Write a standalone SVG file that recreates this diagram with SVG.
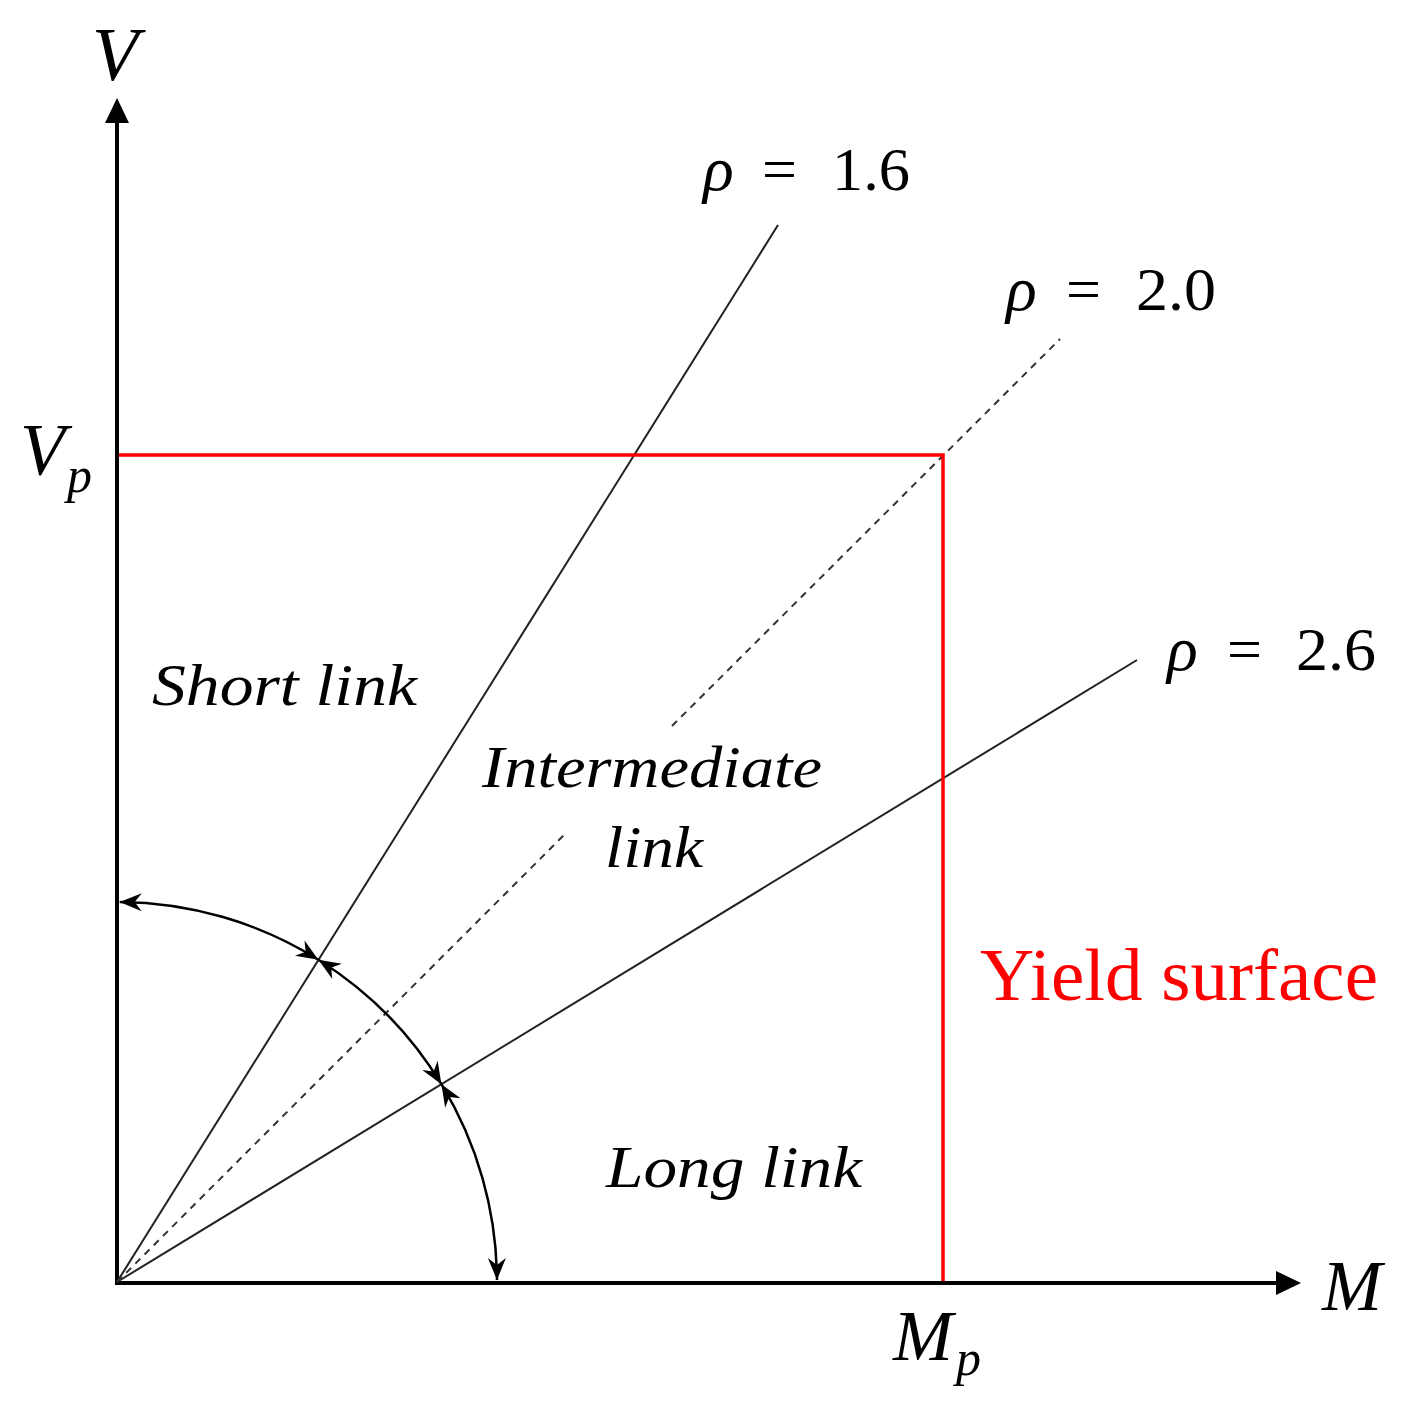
<svg xmlns="http://www.w3.org/2000/svg" width="1411" height="1415" viewBox="0 0 1411 1415">
<style>
.math{font-style:italic;fill:#000}
.num{fill:#000;font-size:62px}
.lbl{font-style:italic;fill:#000;font-size:60px}
.axis{stroke:#000;stroke-width:4;fill:none}
.ray{stroke:#222;stroke-width:2;fill:none}
.dash{stroke:#333;stroke-width:2;fill:none;stroke-dasharray:7 6}
.yield{stroke:#ff0000;stroke-width:3.5;fill:none}
.arc{stroke:#000;stroke-width:2.5;fill:none;marker-start:url(#barb);marker-end:url(#barb)}
</style>
<defs>
<marker id="barb" markerUnits="userSpaceOnUse" orient="auto-start-reverse" markerWidth="40" markerHeight="40" refX="0" refY="0" overflow="visible">
<path d="M0,0 L-22,-9 L-15,0 L-22,9 Z" fill="#000"/>
</marker>
</defs>
<rect width="1411" height="1415" fill="#fff"/>
<g id="connectors">
<line class="axis" x1="117" y1="1285" x2="117" y2="115"/>
<polygon points="117,98 105,123 129,123" fill="#000"/>
<line class="axis" x1="115" y1="1283" x2="1285" y2="1283"/>
<polygon points="1301,1283 1276,1271 1276,1295" fill="#000"/>
<line class="ray" x1="117" y1="1282" x2="778" y2="225"/>
<line class="ray" x1="117" y1="1282" x2="1137" y2="660"/>
<line class="dash" x1="117" y1="1282" x2="567" y2="832"/>
<line class="dash" x1="672" y1="726" x2="1060" y2="339"/>
<path class="arc" d="M119.7,902 A380 380 0 0 1 318.4,959.7"/>
<path class="arc" d="M318.4,959.7 A380 380 0 0 1 441.4,1084.2"/>
<path class="arc" d="M441.4,1084.2 A380 380 0 0 1 497,1280"/>
</g>
<g font-family="Liberation Serif, serif">
<g id="yield-surface">
<polyline class="yield" points="119,455 943,455 943,1281"/>
<text x="980" y="1000" font-family="Liberation Serif, serif" font-size="74" fill="#ff0000" textLength="398" lengthAdjust="spacingAndGlyphs">Yield surface</text>
</g>
<g id="axis-labels">
<text class="math" font-family="Liberation Serif, serif" x="92" y="80" font-size="76">V</text>
<text class="math" font-family="Liberation Serif, serif" x="1322" y="1310" font-size="72">M</text>
<text class="math" font-family="Liberation Serif, serif" x="20" y="475" font-size="74">V</text>
<text class="math" font-family="Liberation Serif, serif" x="67" y="492" font-size="50">p</text>
<text class="math" font-family="Liberation Serif, serif" x="893" y="1360" font-size="72">M</text>
<text class="math" font-family="Liberation Serif, serif" x="956" y="1375" font-size="50">p</text>
</g>
<g id="rho-16">
<text class="math" font-family="Liberation Serif, serif" x="703" y="190" font-size="64">ρ</text>
<text class="num" font-family="Liberation Serif, serif" x="762" y="190">=</text>
<text class="num" font-family="Liberation Serif, serif" x="832" y="190" textLength="78" lengthAdjust="spacingAndGlyphs">1.6</text>
</g>
<g id="rho-20">
<text class="math" font-family="Liberation Serif, serif" x="1006" y="310" font-size="64">ρ</text>
<text class="num" font-family="Liberation Serif, serif" x="1066" y="310">=</text>
<text class="num" font-family="Liberation Serif, serif" x="1136" y="310" textLength="80" lengthAdjust="spacingAndGlyphs">2.0</text>
</g>
<g id="rho-26">
<text class="math" font-family="Liberation Serif, serif" x="1167" y="670" font-size="64">ρ</text>
<text class="num" font-family="Liberation Serif, serif" x="1227" y="670">=</text>
<text class="num" font-family="Liberation Serif, serif" x="1296" y="670" textLength="80" lengthAdjust="spacingAndGlyphs">2.6</text>
</g>
<g id="short-link">
<text class="lbl" font-family="Liberation Serif, serif" x="152" y="705" textLength="265" lengthAdjust="spacingAndGlyphs">Short link</text>
</g>
<g id="intermediate-link">
<text class="lbl" font-family="Liberation Serif, serif" x="482" y="787" textLength="340" lengthAdjust="spacingAndGlyphs">Intermediate</text>
<text class="lbl" font-family="Liberation Serif, serif" x="605" y="867" textLength="98" lengthAdjust="spacingAndGlyphs">link</text>
</g>
<g id="long-link">
<text class="lbl" font-family="Liberation Serif, serif" x="606" y="1187" textLength="256" lengthAdjust="spacingAndGlyphs">Long link</text>
</g>
</g>
</svg>
